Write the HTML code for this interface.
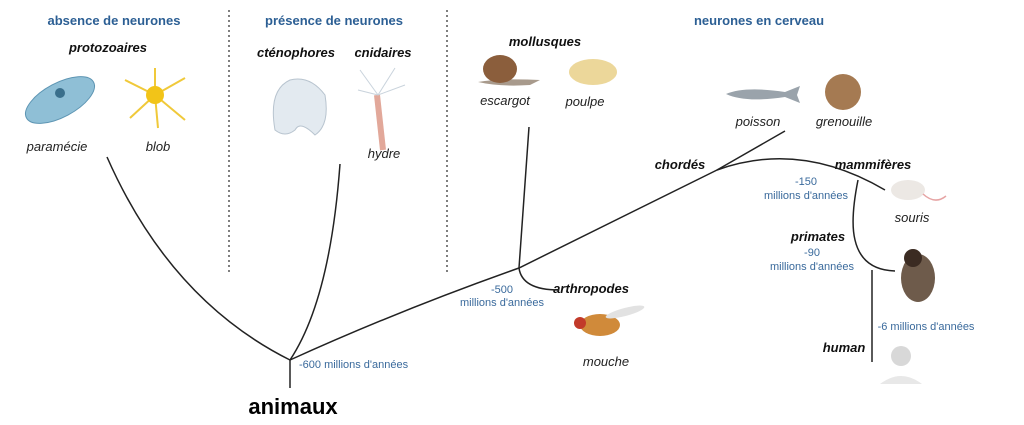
<!DOCTYPE html>
<html><head><meta charset="utf-8"><style>
html,body{margin:0;padding:0;background:#fff;}
svg{display:block}
text{font-family:"Liberation Sans",Arial,sans-serif;}
.h{fill:#2c5f94;font-weight:bold;font-size:13px}
.g{font-weight:bold;font-style:italic;font-size:13px;fill:#111}
.n{font-style:italic;font-size:13px;fill:#222}
.b{fill:#3a6a9c;font-size:11px}
</style></head><body>
<svg width="1024" height="425" viewBox="0 0 1024 425" xmlns="http://www.w3.org/2000/svg">
<line x1="229" y1="10" x2="229" y2="272" stroke="#555" stroke-width="1.5" stroke-dasharray="2,3"/>
<line x1="447" y1="10" x2="447" y2="272" stroke="#555" stroke-width="1.5" stroke-dasharray="2,3"/>
<text class="h" x="114" y="25" text-anchor="middle">absence de neurones</text>
<text class="h" x="334" y="25" text-anchor="middle">présence de neurones</text>
<text class="h" x="759" y="25" text-anchor="middle">neurones en cerveau</text>
<text class="g" x="108" y="52" text-anchor="middle">protozoaires</text>
<text class="g" x="296" y="57" text-anchor="middle">cténophores</text>
<text class="g" x="383" y="57" text-anchor="middle">cnidaires</text>
<text class="g" x="545" y="46" text-anchor="middle">mollusques</text>
<text class="n" x="57" y="151" text-anchor="middle">paramécie</text>
<text class="n" x="158" y="151" text-anchor="middle">blob</text>
<text class="n" x="384" y="158" text-anchor="middle">hydre</text>
<text class="n" x="505" y="105" text-anchor="middle">escargot</text>
<text class="n" x="585" y="106" text-anchor="middle">poulpe</text>
<text class="n" x="758" y="126" text-anchor="middle">poisson</text>
<text class="n" x="844" y="126" text-anchor="middle">grenouille</text>
<text class="n" x="912" y="222" text-anchor="middle">souris</text>
<text class="n" x="606" y="366" text-anchor="middle">mouche</text>
<text class="g" x="680" y="169" text-anchor="middle">chordés</text>
<text class="g" x="873" y="169" text-anchor="middle">mammifères</text>
<text class="g" x="818" y="241" text-anchor="middle">primates</text>
<text class="g" x="591" y="293" text-anchor="middle">arthropodes</text>
<text class="g" x="844" y="352" text-anchor="middle">human</text>
<text class="b" x="806" y="185" text-anchor="middle">-150</text>
<text class="b" x="806" y="199" text-anchor="middle">millions d'années</text>
<text class="b" x="812" y="256" text-anchor="middle">-90</text>
<text class="b" x="812" y="270" text-anchor="middle">millions d'années</text>
<text class="b" x="502" y="293" text-anchor="middle">-500</text>
<text class="b" x="502" y="306" text-anchor="middle">millions d'années</text>
<text class="b" x="926" y="330" text-anchor="middle">-6 millions d'années</text>
<text class="b" x="299" y="368">-600 millions d'années</text>
<text x="293" y="414" text-anchor="middle" style="font-weight:bold;font-size:22px;fill:#000">animaux</text>
<g fill="none" stroke="#222" stroke-width="1.5">
<path d="M290,388 L290,360"/>
<path d="M107,157 Q170,300 290,360"/>
<path d="M340,164 Q330,300 290,360"/>
<path d="M290,360 Q400,310 519,268 L717,170 L785,131"/>
<path d="M529,127 L519,268 Q522,290 559,290"/>
<path d="M717,170 Q800,140 885,190"/>
<path d="M858,180 Q850,220 855,240 Q862,270 895,271"/>
<path d="M872,270 L872,362"/>
</g>
<!-- paramecie -->
<ellipse cx="60" cy="100" rx="38" ry="17" transform="rotate(-28 60 100)" fill="#8fbfd6" stroke="#5d95b3"/>
<circle cx="60" cy="93" r="5" fill="#3a6f8c"/>
<!-- blob -->
<g stroke="#f0c93a" stroke-width="2"><line x1="155" y1="95" x2="125" y2="80"/><line x1="155" y1="95" x2="185" y2="78"/><line x1="155" y1="95" x2="130" y2="118"/><line x1="155" y1="95" x2="185" y2="120"/><line x1="155" y1="95" x2="155" y2="68"/><line x1="155" y1="95" x2="158" y2="128"/></g>
<circle cx="155" cy="95" r="9" fill="#f2c418"/>
<!-- ctenophore -->
<path d="M275,130 Q268,90 290,80 Q310,75 325,95 Q330,125 315,135 Q300,120 295,130 Q285,138 275,130Z" fill="#e3eaf0" stroke="#b8c4cf"/>
<!-- hydre -->
<path d="M377,95 L383,150" stroke="#e2a89a" stroke-width="6"/>
<g stroke="#c9d3dc" stroke-width="1"><line x1="378" y1="95" x2="360" y2="70"/><line x1="378" y1="95" x2="395" y2="68"/><line x1="378" y1="95" x2="405" y2="85"/><line x1="378" y1="95" x2="358" y2="90"/></g>
<!-- snail -->
<path d="M478,82 Q500,78 540,80 L530,85 Q500,87 478,82Z" fill="#a89a8c"/>
<ellipse cx="500" cy="69" rx="17" ry="14" fill="#8b5e3c"/>
<!-- octopus -->
<ellipse cx="593" cy="72" rx="24" ry="13" fill="#ecd79a"/>
<!-- fish -->
<path d="M726,94 Q745,86 785,92 L800,86 L797,95 L800,103 L785,97 Q745,103 726,94Z" fill="#9aa3ab"/>
<!-- frog -->
<ellipse cx="843" cy="92" rx="18" ry="18" fill="#a57a52"/>
<!-- mouse -->
<ellipse cx="908" cy="190" rx="17" ry="10" fill="#ece8e4"/>
<path d="M923,194 Q935,205 946,196" stroke="#e6a4a4" fill="none" stroke-width="1.5"/>
<!-- monkey -->
<ellipse cx="918" cy="278" rx="17" ry="24" fill="#6e5b4b"/>
<circle cx="913" cy="258" r="9" fill="#3b2b22"/>
<!-- fly -->
<ellipse cx="600" cy="325" rx="20" ry="11" fill="#d08a3a"/>
<circle cx="580" cy="323" r="6" fill="#c23a2a"/>
<ellipse cx="625" cy="312" rx="20" ry="4" fill="#e2e2e2" transform="rotate(-15 625 312)"/>
<!-- human -->
<circle cx="901" cy="356" r="10" fill="#d8d8d8"/>
<path d="M880,384 Q901,368 922,384Z" fill="#e8e8e8"/>
</svg>
</body></html>
